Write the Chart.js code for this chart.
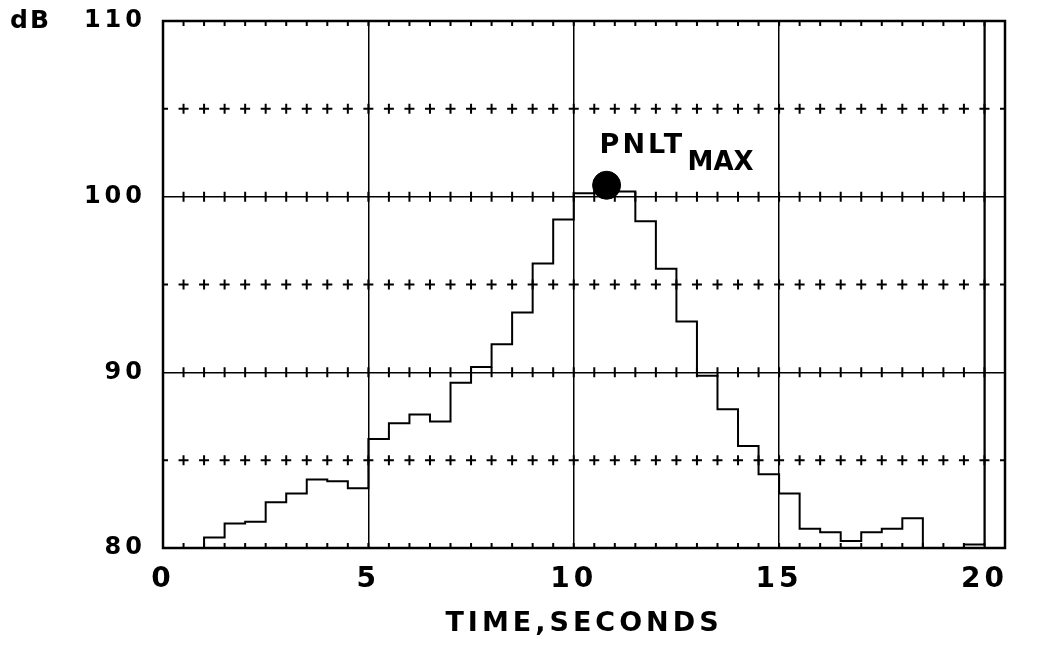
<!DOCTYPE html>
<html lang="en">
<head>
  <meta charset="UTF-8">
  <title>PNLT time history</title>
  <script src="https://cdn.jsdelivr.net/npm/chart.js"></script>
  <style>
    html, body { margin: 0; padding: 0; background: #ffffff; }
  </style>
</head>
<body>
  <canvas id="pnltChart" width="1039" height="648"></canvas>

  <script>
    // Step history: each level is held from its start time to the next start time
    var stepTimes = [0, 1, 1.5, 2, 2.5, 3, 3.5, 4, 4.5, 5, 5.5, 6, 6.5, 7, 7.5, 8, 8.5, 9, 9.5,
                     10, 10.5, 11, 11.5, 12, 12.5, 13, 13.5, 14, 14.5, 15, 15.5, 16, 16.5, 17,
                     17.5, 18, 18.5, 19.5, 20];
    var stepLevels = [80, 80.6, 81.4, 81.5, 82.6, 83.1, 83.9, 83.8, 83.4, 86.2, 87.1, 87.6, 87.2,
                      89.4, 90.3, 91.6, 93.4, 96.2, 98.7, 100.2, 100.3, 100.3, 98.6, 95.9, 92.9,
                      89.8, 87.9, 85.8, 84.2, 83.1, 81.1, 80.9, 80.4, 80.9, 81.1, 81.7, 80, 80.2, 110];
    var pnltMaxPoint = { x: 10.8, y: 100.65 };

    // Axes
    var xTicks = [0, 5, 10, 15, 20];
    var yTicks = [80, 90, 100, 110];
    var plusRows = [85, 95, 105];   // dotted "+" rows
    var xMinorStep = 0.5;

    var FONT = '"DejaVu Sans", Verdana, sans-serif';

    // letter spacing for all chart text
    var spacing = {
      id: 'spacing',
      beforeDraw: function (chart) {
        chart.ctx.letterSpacing = '4px';
      }
    };

    // frame, "+" rows and little ticks along the lines
    var gridMarks = {
      id: 'gridMarks',
      beforeDatasetsDraw: function (chart) {
        var ctx = chart.ctx, a = chart.chartArea;
        var xs = chart.scales.x, ys = chart.scales.y;
        var solidRows = yTicks.filter(function (v) { return v > ys.min && v < ys.max; });
        ctx.save();
        ctx.strokeStyle = '#000';
        ctx.lineWidth = 2;
        ctx.beginPath();
        for (var t = xMinorStep; t < xs.max; t += xMinorStep) {
          var px = xs.getPixelForValue(t);
          plusRows.forEach(function (v) {
            var py = ys.getPixelForValue(v);
            ctx.moveTo(px - 5, py); ctx.lineTo(px + 5, py);
            ctx.moveTo(px, py - 5); ctx.lineTo(px, py + 5);
          });
          solidRows.forEach(function (v) {
            var py = ys.getPixelForValue(v);
            ctx.moveTo(px, py - 5); ctx.lineTo(px, py + 5);
          });
          ctx.moveTo(px, a.top); ctx.lineTo(px, a.top + 5);
          ctx.moveTo(px, a.bottom); ctx.lineTo(px, a.bottom - 5);
        }
        plusRows.forEach(function (v) {
          var py = ys.getPixelForValue(v);
          ctx.moveTo(a.left, py); ctx.lineTo(a.left + 5, py);
          ctx.moveTo(a.right, py); ctx.lineTo(a.right - 5, py);
        });
        ctx.stroke();
        ctx.lineWidth = 2.5;
        ctx.strokeRect(a.left, a.top, a.right - a.left, a.bottom - a.top);
        ctx.restore();
      }
    };

    // "dB" unit and the PNLT MAX note
    var notes = {
      id: 'notes',
      afterDraw: function (chart) {
        var ctx = chart.ctx, xs = chart.scales.x, ys = chart.scales.y;
        ctx.save();
        ctx.fillStyle = '#000';
        ctx.textAlign = 'left';
        ctx.textBaseline = 'middle';
        ctx.letterSpacing = '2px';
        ctx.font = 'bold 25px ' + FONT;
        ctx.fillText('dB', 10, ys.getPixelForValue(ys.max));

        var dx = xs.getPixelForValue(pnltMaxPoint.x);
        var dy = ys.getPixelForValue(pnltMaxPoint.y);
        ctx.textBaseline = 'alphabetic';
        ctx.letterSpacing = '3px';
        ctx.font = 'bold 27px ' + FONT;
        ctx.fillText('PNLT', dx - 7, dy - 32);
        ctx.letterSpacing = '0px';
        ctx.font = 'bold 26px ' + FONT;
        ctx.fillText('MAX', dx + 81, dy - 15);
        ctx.restore();
      }
    };

    // keep the plot box where the reference has it
    function noPad(s) {
      s.paddingTop = 0;
      s.paddingBottom = 0;
      s.paddingLeft = 0;
      s.paddingRight = 0;
    }

    var ctx = document.getElementById('pnltChart').getContext('2d');
    var pnltChart = new Chart(ctx, {
      type: 'line',
      data: {
        datasets: [{
          data: stepTimes.map(function (t, i) { return { x: t, y: stepLevels[i] }; }),
          stepped: true,
          borderColor: '#000',
          borderWidth: 2,
          pointRadius: 0,
          fill: false
        }, {
          type: 'scatter',
          data: [pnltMaxPoint],
          pointRadius: 14,
          pointHoverRadius: 14,
          backgroundColor: '#000',
          borderColor: '#000'
        }]
      },
      options: {
        responsive: false,
        animation: false,
        layout: { padding: { top: 21, right: 34, bottom: 0, left: 0 } },
        plugins: {
          legend: { display: false },
          tooltip: { enabled: false }
        },
        scales: {
          x: {
            type: 'linear',
            min: 0,
            max: 20.5,
            afterBuildTicks: function (s) { s.ticks = xTicks.map(function (v) { return { value: v }; }); },
            afterFit: function (s) { s.height = 100; noPad(s); },
            grid: { color: '#000', lineWidth: 1.5, drawTicks: false },
            border: { display: false },
            ticks: {
              color: '#000',
              padding: 15,
              maxRotation: 0,
              font: { family: FONT, size: 28, weight: 'bold' }
            },
            title: {
              display: true,
              text: 'TIME,SECONDS',
              color: '#000',
              padding: { top: 0, bottom: 8 },
              font: { family: FONT, size: 27, weight: 'bold' }
            }
          },
          y: {
            min: 80,
            max: 110,
            afterBuildTicks: function (s) { s.ticks = yTicks.map(function (v) { return { value: v }; }); },
            afterFit: function (s) { s.width = 163; noPad(s); },
            grid: { color: '#000', lineWidth: 1.5, drawTicks: false },
            border: { display: false },
            ticks: {
              color: '#000',
              padding: 17,
              font: { family: FONT, size: 24, weight: 'bold' }
            }
          }
        }
      },
      plugins: [spacing, gridMarks, notes]
    });
  </script>
</body>
</html>
